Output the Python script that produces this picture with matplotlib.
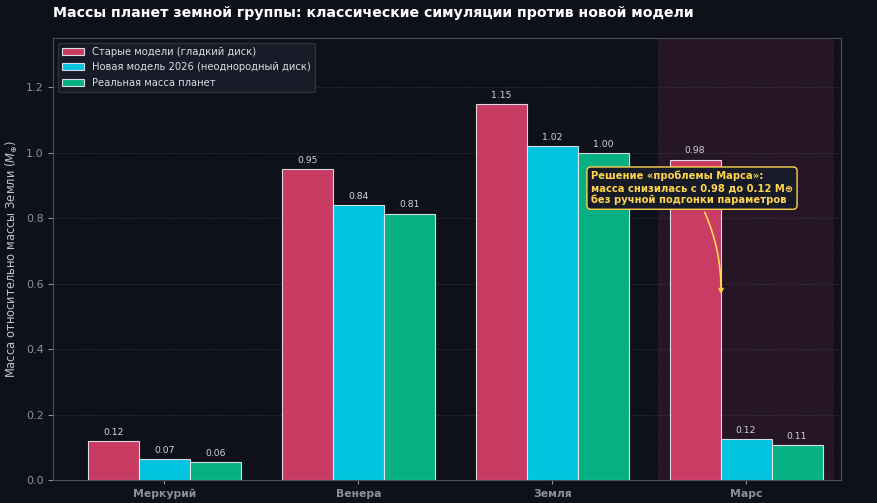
import numpy as np
import matplotlib.pyplot as plt

planets = ['Меркурий', 'Венера', 'Земля', 'Марс']
old_models = [0.12, 0.95, 1.15, 0.98]
new_model = [0.065, 0.84, 1.02, 0.125]
real_mass = [0.055, 0.815, 1.00, 0.107]

series_names = ['Старые модели (гладкий диск)',
                'Новая модель 2026 (неоднородный диск)',
                'Реальная масса планет']
colors = ['#d9406a', '#00d4f0', '#06bf8c']

bg = '#0e1119'

fig, ax = plt.subplots(figsize=(8.77, 5.03), dpi=100)
fig.patch.set_facecolor(bg)
ax.set_facecolor(bg)
fig.subplots_adjust(left=0.061, right=0.959, top=0.925, bottom=0.045)

x = np.arange(len(planets))
w = 0.263

# Mars highlight
ax.axvspan(2.547, 3.45, facecolor='#3a1a2e', alpha=0.55, zorder=0, lw=0.6,
           edgecolor='#5a2a40', linestyle=':')

for i, (vals, name, c) in enumerate(zip([old_models, new_model, real_mass], series_names, colors)):
    bars = ax.bar(x + (i - 1) * w, vals, w, color=c, edgecolor='#e8e8f0', linewidth=0.8,
                  alpha=0.92, label=name, zorder=3)
    for b, v in zip(bars, vals):
        ax.text(b.get_x() + b.get_width() / 2, v + 0.013, f'{v:.2f}', ha='center', va='bottom',
                color='#d0d4dc', fontsize=6.7, zorder=4)

ax.set_xlim(-0.572, 3.49)
ax.set_ylim(0, 1.352)
ax.set_xticks(x)
ax.set_xticklabels(planets, fontsize=7.8, fontweight='bold', color='#9aa0aa')
ax.set_yticks(np.arange(0, 1.3, 0.2))
ax.set_yticklabels([f'{t:.1f}' for t in np.arange(0, 1.3, 0.2)])
ax.tick_params(axis='y', colors='#8a909a', labelsize=8)
ax.tick_params(axis='x', colors='#8a909a', length=3)
ax.set_ylabel('Масса относительно массы Земли ($M_{\\oplus}$)', color='#c0c4cc', fontsize=8.3)

ax.grid(axis='y', color='#3a3f4a', linestyle='--', linewidth=0.6, alpha=0.6, zorder=0)
for s in ax.spines.values():
    s.set_color('#4a4e56')

ax.set_title('Массы планет земной группы: классические симуляции против новой модели',
             loc='left', color='white', fontsize=10.2, fontweight='bold', pad=15, x=0.0)

leg = ax.legend(loc='upper left', fontsize=7.2, facecolor='#161b27', edgecolor='#2c3140',
                labelcolor='#d8dce4', framealpha=1.0, borderpad=0.4, handlelength=2.2,
                labelspacing=0.55)

ax.annotate('Решение «проблемы Марса»:\nмасса снизилась с 0.98 до 0.12 M⊕\nбез ручной подгонки параметров',
            xy=(2.87, 0.56), xytext=(2.2, 0.945), ha='left', va='top',
            color='#ffd54f', fontsize=7.2, fontweight='bold', zorder=6,
            bbox=dict(boxstyle='round,pad=0.4', facecolor='#161b27', edgecolor='#ffd54f', linewidth=1),
            arrowprops=dict(arrowstyle='->', color='#ffd54f', lw=1.2,
                            connectionstyle='arc3,rad=-0.15'))

fig.savefig('out.png', dpi=100, facecolor=bg)
